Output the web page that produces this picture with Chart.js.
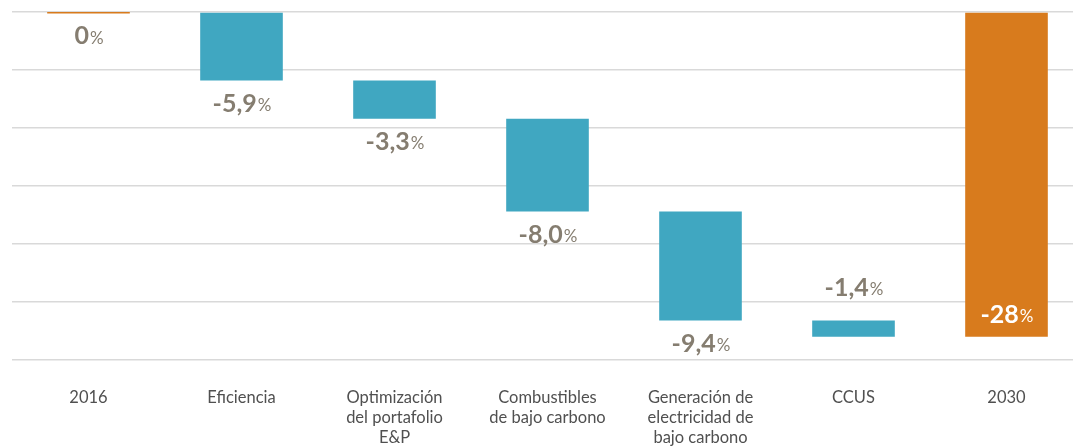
<!DOCTYPE html>
<html>
<head>
<meta charset="utf-8">
<script src="https://cdn.jsdelivr.net/npm/chart.js@4/dist/chart.umd.min.js"></script>
<style>
  html, body { margin: 0; padding: 0; background: #fff; overflow: hidden; }
  #wrap { width: 1083px; height: 446px; }
</style>
</head>
<body>
<div id="wrap"><canvas id="myChart"></canvas></div>
<script>
const categories = [
  "2016",
  "Eficiencia",
  ["Optimización", "del portafolio", "E&P"],
  ["Combustibles", "de bajo carbono"],
  ["Generación de", "electricidad de", "bajo carbono"],
  "CCUS",
  "2030",
];
// change of each step, in %
const changes = [0, -5.9, -3.3, -8.0, -9.4, -1.4, -28];
const isTotal = [true, false, false, false, false, false, true];
const labelPlace = ["below", "below", "below", "below", "below", "above", "inside"];
const yTicks = [0, -5, -10, -15, -20, -25, -30];

// floating bars built from the changes
let running = 0;
const ranges = changes.map((v, i) => {
  if (isTotal[i]) {
    if (v === 0) return [0.12, -0.12];
    return [0, v];
  }
  const r = [running, running + v];
  running += v;
  return r;
});

const colors = isTotal.map((t) => (t ? "#d87b1d" : "#40a7c1"));

function fmt(v, i) {
  if (v === 0) return "0";
  if (isTotal[i]) return String(Math.round(v));
  return v.toFixed(1).replace(".", ",");
}

const valueLabels = {
  id: "valueLabels",
  afterDatasetsDraw(chart) {
    const ctx = chart.ctx;
    const meta = chart.getDatasetMeta(0);
    ctx.save();
    ctx.textBaseline = "middle";
    ctx.textAlign = "left";
    meta.data.forEach((bar, i) => {
      const num = fmt(changes[i], i);
      const bigFont = "bold 25px Lato, 'Open Sans', sans-serif";
      const smallFont = "17px Lato, 'Open Sans', sans-serif";
      ctx.font = bigFont;
      const w1 = ctx.measureText(num).width;
      ctx.font = smallFont;
      const w2 = ctx.measureText("%").width;
      const x0 = bar.x - (w1 + w2) / 2;
      const top = Math.min(bar.y, bar.base);
      const bottom = Math.max(bar.y, bar.base);
      let y;
      let color = "#857d70";
      if (labelPlace[i] === "above") y = top - 33;
      else if (labelPlace[i] === "inside") { y = bottom - 22; color = "#ffffff"; }
      else y = bottom + 23;
      ctx.fillStyle = color;
      ctx.font = bigFont;
      ctx.fillText(num, x0, y);
      ctx.font = smallFont;
      ctx.fillText("%", x0 + w1 + 1, y + 2);
    });
    ctx.restore();
  },
};

const config = {
  type: "bar",
  data: {
    labels: categories,
    datasets: [
      {
        data: ranges,
        backgroundColor: colors,
        borderWidth: 0,
        borderSkipped: false,
        barPercentage: 0.54,
        categoryPercentage: 1,
      },
    ],
  },
  options: {
    responsive: true,
    maintainAspectRatio: false,
    animation: false,
    layout: { padding: { left: 12, top: 12, right: 0, bottom: 0 } },
    plugins: {
      legend: { display: false },
      tooltip: { enabled: false },
    },
    scales: {
      x: {
        grid: { display: false },
        border: { display: false },
        ticks: {
          color: "#505050",
          font: { family: "Lato, 'Open Sans', sans-serif", size: 16.5 },
          padding: 20,
          maxRotation: 0,
          autoSkip: false,
        },
        afterFit(scale) {
          scale.height = 86;
        },
      },
      y: {
        min: yTicks[yTicks.length - 1],
        max: yTicks[0],
        afterBuildTicks(scale) {
          scale.ticks = yTicks.map((v) => ({ value: v }));
        },
        grid: { color: "#d9d9d9", lineWidth: 1.5, drawTicks: false },
        border: { display: false },
        ticks: { display: false },
      },
    },
  },
  plugins: [valueLabels],
};

const myChart = new Chart(document.querySelector("#myChart"), config);
</script>
</body>
</html>
